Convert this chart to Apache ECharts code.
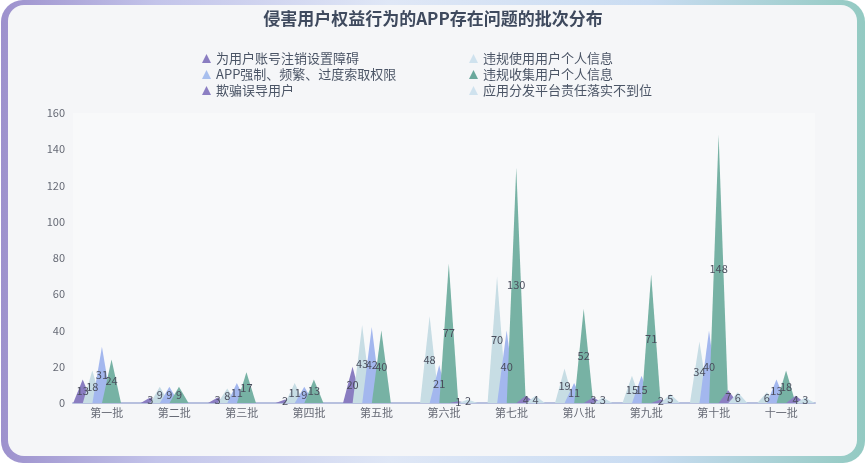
<!DOCTYPE html>
<html><head><meta charset="utf-8">
<script src="https://cdn.jsdelivr.net/npm/echarts@6/dist/echarts.min.js"></script>
<style>
html,body{margin:0;padding:0;width:866px;height:469px;background:#ffffff;overflow:hidden;}
#frame{position:absolute;left:1px;top:0;width:864px;height:463px;border-radius:22px;
background:linear-gradient(90deg,#9d91cd 0%,#c3c4ea 18%,#dfe7f6 45%,#c9dcf2 75%,#93cac2 100%);}
#panel{position:absolute;left:8px;top:5px;width:849px;height:451px;border-radius:16px;background:#f5f6f8;}
#chart{position:absolute;left:0;top:0;width:866px;height:469px;}
</style></head>
<body>
<div id="frame"></div><div id="panel"></div>
<div id="chart"></div>
<script>
const categories = ['第一批','第二批','第三批','第四批','第五批','第六批','第七批','第八批','第九批','第十批','十一批'];
const seriesNames = ['为用户账号注销设置障碍','违规使用用户个人信息','APP强制、频繁、过度索取权限','违规收集用户个人信息','欺骗误导用户','应用分发平台责任落实不到位'];
const accountBarrier   = [13, 3, 3, 2, 20, 0, 0, 0, 0, 0, 0];
const illegalUse       = [18, 9, 8, 11, 43, 48, 70, 19, 15, 34, 6];
const forcedPermission = [31, 9, 11, 9, 42, 21, 40, 11, 15, 40, 13];
const illegalCollect   = [24, 9, 17, 13, 40, 77, 130, 52, 71, 148, 18];
const misleadUsers     = [0, 0, 0, 0, 0, 1, 4, 3, 2, 7, 4];
const platformDuty     = [0, 0, 0, 0, 0, 2, 4, 3, 5, 6, 3];
const yTicks = [0, 20, 40, 60, 80, 100, 120, 140, 160];

const seriesData = [accountBarrier, illegalUse, forcedPermission, illegalCollect, misleadUsers, platformDuty];
const colors = ['#8a7dc1', '#c7dde4', '#a3b7ee', '#77b2a4', '#8c7fc3', '#c9dfe8'];
const legendColors = ['#8a7dc1', '#cfe2ee', '#a8bfee', '#6aa89c', '#8c7fc3', '#cfe2ee'];

const chart = echarts.init(document.getElementById('chart'), null, {renderer: 'canvas'});
const font = '"Noto Sans CJK SC", "Noto Sans", sans-serif';

const series = seriesNames.map((name, i) => ({
  name: name,
  type: 'pictorialBar',
  symbol: 'triangle',
  symbolSize: [19, '100%'],
  barWidth: 16,
  barGap: '-40%',
  itemStyle: { color: colors[i] },
  label: {
    show: true,
    position: 'inside',
    color: '#4a4d5c',
    fontSize: 11,
    fontFamily: font,
    formatter: p => (p.value ? String(p.value) : '')
  },
  data: seriesData[i]
}));

const legendCommon = {
  orient: 'vertical',
  icon: 'triangle',
  itemWidth: 9,
  itemHeight: 9,
  itemGap: 3,
  padding: 0,
  top: 52,
  textStyle: { fontSize: 13, color: '#4b5566', fontFamily: font }
};

chart.setOption({
  backgroundColor: 'transparent',
  color: legendColors,
  title: {
    text: '侵害用户权益行为的APP存在问题的批次分布',
    left: 'center',
    top: 10,
    padding: 0,
    textStyle: { fontSize: 17, fontWeight: 'bold', color: '#3f4a5e', fontFamily: font }
  },
  legend: [
    Object.assign({}, legendCommon, { left: 202, data: [
      {name: seriesNames[0], itemStyle: {color: legendColors[0]}},
      {name: seriesNames[2], itemStyle: {color: legendColors[2]}},
      {name: seriesNames[4], itemStyle: {color: legendColors[4]}}
    ]}),
    Object.assign({}, legendCommon, { left: 469, data: [
      {name: seriesNames[1], itemStyle: {color: legendColors[1]}},
      {name: seriesNames[3], itemStyle: {color: legendColors[3]}},
      {name: seriesNames[5], itemStyle: {color: legendColors[5]}}
    ]})
  ],
  grid: {
    left: 73, right: 51, top: 113, bottom: 66,
    show: true, backgroundColor: 'rgba(255,255,255,0.35)', borderWidth: 0
  },
  xAxis: {
    type: 'category',
    data: categories,
    axisLine: { show: true, lineStyle: { color: '#b7c0de', width: 2 } },
    axisTick: { show: false },
    axisLabel: { color: '#666a75', fontSize: 11, margin: 4, fontFamily: font }
  },
  yAxis: {
    type: 'value',
    min: yTicks[0],
    max: yTicks[yTicks.length - 1],
    interval: yTicks[1] - yTicks[0],
    axisLine: { show: false },
    axisTick: { show: false },
    splitLine: { show: false },
    axisLabel: { color: '#666a75', fontSize: 11, fontFamily: font }
  },
  series: series
});
</script>
</body></html>
